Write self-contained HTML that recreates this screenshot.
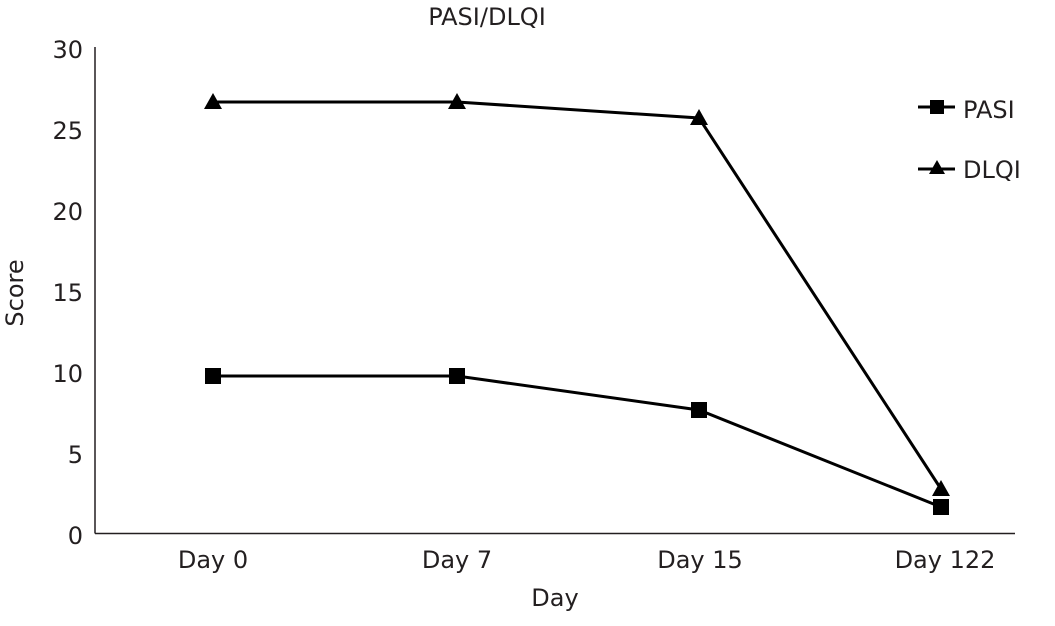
<!DOCTYPE html>
<html><head><style>body{margin:0;background:#fff}</style></head><body>
<svg width="1055" height="621" xmlns="http://www.w3.org/2000/svg" font-family="'DejaVu Sans', 'Liberation Sans', sans-serif" fill="#231f20">
<text x="487" y="25" font-size="24" text-anchor="middle">PASI/DLQI</text>
<line x1="95" y1="47" x2="95" y2="533.5" stroke="#231f20" stroke-width="1.5"/>
<line x1="95" y1="533.5" x2="1015" y2="533.5" stroke="#231f20" stroke-width="1.5"/>
<g font-size="24" text-anchor="end">
<text x="83" y="58">30</text><text x="83" y="139">25</text><text x="83" y="220">20</text>
<text x="83" y="301">15</text><text x="83" y="382">10</text><text x="83" y="463">5</text><text x="83" y="544">0</text>
</g>
<g font-size="24" text-anchor="middle">
<text x="213" y="568">Day 0</text><text x="457" y="568">Day 7</text><text x="700" y="568">Day 15</text><text x="945" y="568">Day 122</text>
<text x="555" y="606">Day</text>
</g>
<text transform="translate(23,293) rotate(-90)" font-size="24" text-anchor="middle">Score</text>
<polyline points="213,376 457,376 699,410 941,507" fill="none" stroke="#000" stroke-width="3"/>
<polyline points="213,102 457,102 699,118 941,489" fill="none" stroke="#000" stroke-width="3"/>
<g fill="#000">
<rect x="205" y="368" width="16" height="16"/><rect x="449" y="368" width="16" height="16"/>
<rect x="691" y="402" width="16" height="16"/><rect x="933" y="499" width="16" height="16"/>
<polygon points="213,93 204,109 222,109"/><polygon points="457,93 448,109 466,109"/>
<polygon points="699,109 690,125 708,125"/><polygon points="941,480 932,496 950,496"/>
<line x1="918" y1="107" x2="955" y2="107" stroke="#000" stroke-width="3"/>
<rect x="930" y="100" width="14" height="14"/>
<line x1="918" y1="169" x2="955" y2="169" stroke="#000" stroke-width="3"/>
<polygon points="937,160 929,174 945,174"/>
</g>
<text x="963" y="118" font-size="24">PASI</text>
<text x="963" y="178" font-size="24">DLQI</text>
</svg>
</body></html>
